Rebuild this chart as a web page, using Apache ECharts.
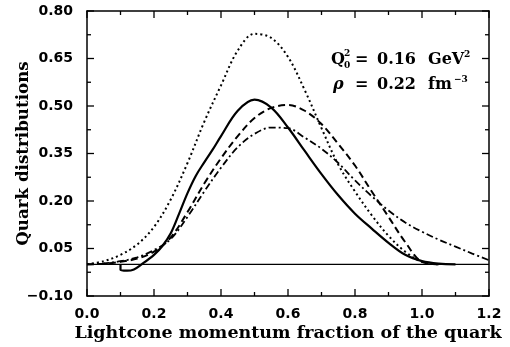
<!DOCTYPE html>
<html>
<head>
<meta charset="utf-8">
<script src="https://cdn.jsdelivr.net/npm/echarts@6/dist/echarts.min.js"></script>
<style>
  html, body { margin: 0; padding: 0; background: #fff; }
  #chart { width: 510px; height: 347px; }
</style>
</head>
<body>
<div id="chart"></div>
<script>
// Quark distributions vs. lightcone momentum fraction
const xTitle = 'Lightcone momentum fraction of the quark';
const yTitle = 'Quark distributions';

// tick positions of the frame (major and minor)
const xMajorTicks = [0.0, 0.2, 0.4, 0.6, 0.8, 1.0, 1.2];
const xMinorTicks = [0.1, 0.3, 0.5, 0.7, 0.9, 1.1];
const yMajorTicks = [-0.10, 0.05, 0.20, 0.35, 0.50, 0.65, 0.80];
const yMinorTicks = [-0.025, 0.125, 0.275, 0.425, 0.575, 0.725];

// solid curve (with the small negative hook near x = 0.1)
const solidX = [0.10, 0.10, 0.12, 0.14, 0.163, 0.20, 0.225, 0.25, 0.275, 0.30, 0.325, 0.35, 0.375, 0.40, 0.45, 0.50, 0.55, 0.60, 0.65, 0.70, 0.75, 0.80, 0.85, 0.90, 0.95, 1.00, 1.05, 1.10];
const solidY = [0.0, -0.017, -0.02, -0.016, 0.0, 0.03, 0.058, 0.098, 0.16, 0.225, 0.28, 0.322, 0.362, 0.405, 0.485, 0.52, 0.495, 0.432, 0.358, 0.285, 0.218, 0.16, 0.113, 0.068, 0.03, 0.01, 0.002, 0.0];

// dotted curve
const dottedX = [0.0, 0.05, 0.10, 0.15, 0.20, 0.25, 0.30, 0.35, 0.40, 0.45, 0.50, 0.55, 0.60, 0.65, 0.70, 0.75, 0.80, 0.85, 0.90, 0.95, 1.00, 1.05];
const dottedY = [0.0, 0.01, 0.03, 0.063, 0.118, 0.205, 0.32, 0.45, 0.565, 0.675, 0.728, 0.715, 0.655, 0.55, 0.43, 0.315, 0.23, 0.155, 0.09, 0.04, 0.008, 0.0];

// dashed curve
const dashedX = [0.0, 0.05, 0.10, 0.15, 0.20, 0.25, 0.30, 0.35, 0.40, 0.45, 0.50, 0.55, 0.60, 0.65, 0.70, 0.75, 0.80, 0.85, 0.90, 0.95, 1.00, 1.05];
const dashedY = [0.0, 0.002, 0.008, 0.018, 0.04, 0.085, 0.165, 0.255, 0.335, 0.405, 0.462, 0.494, 0.503, 0.485, 0.443, 0.38, 0.312, 0.23, 0.15, 0.07, 0.008, 0.0];

// dash-dotted curve
const dashDotX = [0.0, 0.05, 0.10, 0.15, 0.20, 0.25, 0.30, 0.35, 0.40, 0.45, 0.50, 0.55, 0.60, 0.65, 0.70, 0.75, 0.80, 0.85, 0.90, 0.95, 1.00, 1.05, 1.10, 1.15, 1.20];
const dashDotY = [0.0, 0.003, 0.01, 0.022, 0.045, 0.08, 0.15, 0.23, 0.305, 0.37, 0.412, 0.432, 0.43, 0.40, 0.365, 0.32, 0.265, 0.215, 0.17, 0.132, 0.103, 0.078, 0.056, 0.034, 0.013];

// zero baseline
const baseX = [0.0, 1.2];
const baseY = [0.0, 0.0];

const X_MIN = 0, X_MAX = 1.2, Y_MIN = -0.1, Y_MAX = 0.8;

const zip = (xs, ys) => xs.map((x, i) => [x, ys[i]]);

const tickFont = { fontFamily: 'DejaVu Sans', fontWeight: 'bold', fontSize: 14, color: '#000' };
const annFont = 'DejaVu Serif';

function xAxisDef(pos, labelled) {
  return {
    type: 'value', position: pos, min: X_MIN, max: X_MAX, interval: 0.2,
    axisLine: { show: true, onZero: false, lineStyle: { color: '#000', width: 1.5 } },
    axisTick: { show: false },
    splitLine: { show: false },
    axisLabel: labelled ? Object.assign({ margin: 11, formatter: v => v.toFixed(1) }, tickFont) : { show: false },
    name: labelled ? xTitle : '',
    nameLocation: 'middle', nameGap: 28, nameMoveOverlap: false,
    nameTextStyle: { fontFamily: 'DejaVu Serif', fontWeight: 'bold', fontSize: 17.5, color: '#000' }
  };
}
function yAxisDef(pos, labelled) {
  return {
    type: 'value', position: pos, min: Y_MIN, max: Y_MAX, interval: 0.15,
    axisLine: { show: true, onZero: false, lineStyle: { color: '#000', width: 1.5 } },
    axisTick: { show: false },
    splitLine: { show: false },
    axisLabel: labelled ? Object.assign({
      margin: 14,
      formatter: v => (v < -1e-9 ? '\u2212' + Math.abs(v).toFixed(2) : Math.abs(v).toFixed(2))
    }, tickFont) : { show: false },
    name: labelled ? yTitle : '',
    nameLocation: 'middle', nameGap: 55, nameRotate: 90, nameMoveOverlap: false,
    nameTextStyle: { fontFamily: 'DejaVu Serif', fontWeight: 'bold', fontSize: 16.7, color: '#000' }
  };
}

function curve(xs, ys, type, width) {
  return {
    type: 'line', xAxisIndex: 0, yAxisIndex: 0, data: zip(xs, ys),
    smooth: 0.35, showSymbol: false, symbol: 'none', silent: true,
    lineStyle: { color: '#000', width: width, type: type, cap: 'butt' }
  };
}

function txt(left, top, text, font) {
  return { type: 'text', left: left, top: top, silent: true, style: { text: text, font: font + ' ' + annFont, fill: '#000' } };
}
const annotations = [
  txt(331, 52, 'Q', 'bold 16px'),
  txt(344, 49, '2', 'bold 9px'),
  txt(344, 61, '0', 'bold 9px'),
  txt(355, 52, '=', 'bold 16px'),
  txt(377, 52, '0.16', 'bold 16px'),
  txt(428, 52, 'GeV', 'bold 16px'),
  txt(464, 50, '2', 'bold 9px'),
  txt(333, 77, '\u03C1', 'italic bold 16px'),
  txt(355, 77, '=', 'bold 16px'),
  txt(377, 77, '0.22', 'bold 16px'),
  txt(428, 77, 'fm', 'bold 16px'),
  txt(454, 75, '\u22123', 'bold 9px')
];

const chart = echarts.init(document.getElementById('chart'), null, { renderer: 'canvas' });
chart.setOption({
  animation: false,
  grid: { left: 87, right: 21, top: 11, bottom: 50 },
  xAxis: [xAxisDef('bottom', true), xAxisDef('top', false)],
  yAxis: [yAxisDef('left', true), yAxisDef('right', false)],
  series: [
    Object.assign(curve(baseX, baseY, 'solid', 1.3), { smooth: false }),
    curve(solidX, solidY, 'solid', 2.2),
    curve(dottedX, dottedY, [2, 3], 2),
    curve(dashedX, dashedY, [7, 4], 2),
    curve(dashDotX, dashDotY, [7, 3, 2, 3], 1.8)
  ]
});

// inward frame ticks on all four sides, placed through the grid's own scales
const toPx = p => chart.convertToPixel({ gridIndex: 0 }, p);
const tickStyle = { stroke: '#000', lineWidth: 1.3 };
function seg(x1, y1, x2, y2) {
  return { type: 'line', silent: true, z: 100, shape: { x1: x1, y1: y1, x2: x2, y2: y2 }, style: tickStyle };
}
const tickMarks = [];
function addXTicks(values, len) {
  values.forEach(v => {
    const b = toPx([v, Y_MIN]), t = toPx([v, Y_MAX]);
    tickMarks.push(seg(b[0], b[1], b[0], b[1] - len));
    tickMarks.push(seg(t[0], t[1], t[0], t[1] + len));
  });
}
function addYTicks(values, len) {
  values.forEach(v => {
    const l = toPx([X_MIN, v]), r = toPx([X_MAX, v]);
    tickMarks.push(seg(l[0], l[1], l[0] + len, l[1]));
    tickMarks.push(seg(r[0], r[1], r[0] - len, r[1]));
  });
}
addXTicks(xMajorTicks, 7);
addXTicks(xMinorTicks, 4);
addYTicks(yMajorTicks, 7);
addYTicks(yMinorTicks, 4);

chart.setOption({ graphic: { elements: annotations.concat(tickMarks) } });
</script>
</body>
</html>
